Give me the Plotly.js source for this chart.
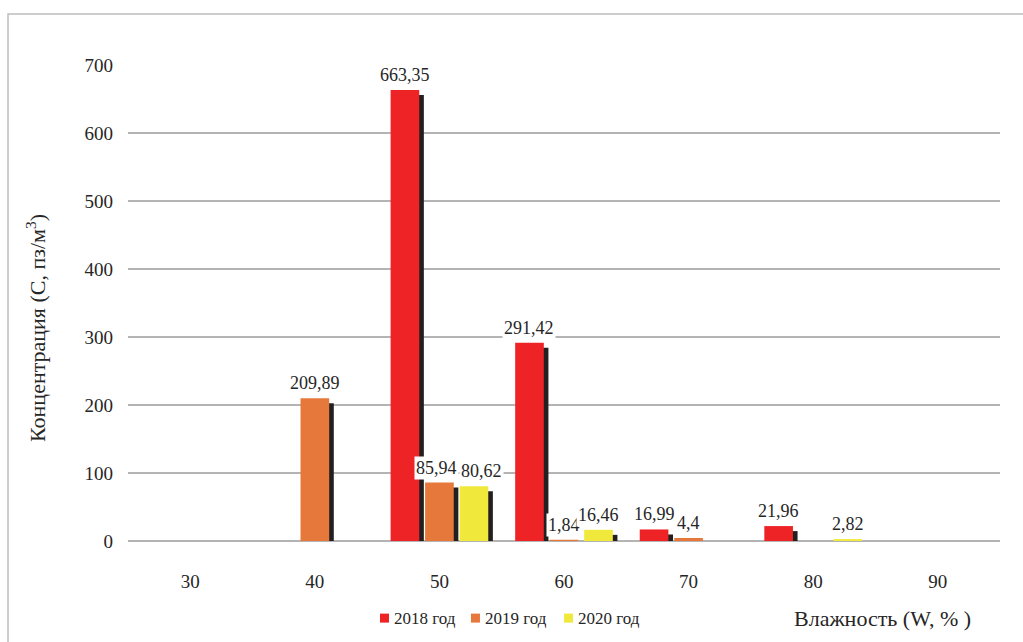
<!DOCTYPE html>
<html>
<head>
<meta charset="utf-8">
<script src="https://cdn.plot.ly/plotly-3.0.1.min.js"></script>
<style>html,body{margin:0;padding:0;background:#fff;}#chart{width:1023px;height:642px;}</style>
</head>
<body>
<div id="chart"></div>
<script>
// Humidity categories (W, %)
var humidity = [30, 40, 50, 60, 70, 80, 90];
var tickLabels = ['30', '40', '50', '60', '70', '80', '90'];
// Concentration values by year
var y2018 = [null, null, 663.35, 291.42, 16.99, 21.96, null];
var y2019 = [null, 209.89, 85.94, 1.84, 4.4, null, null];
var y2020 = [null, null, 80.62, 16.46, null, 2.82, null];
var seriesNames = ['2018 год', '2019 год', '2020 год'];
var seriesColors = ['#EE2326', '#E5783A', '#F0E93C'];

var series = [y2018, y2019, y2020];
var offsets = [-2.77, 0, 2.77];   // bar centre offsets within a group (x units)
var bw = 2.3;                     // bar width (x units)
var shX = 0.37, shY = 7.4;        // drop-shadow offset (x units, y units)
var fontFam = 'Liberation Serif';
var txtColor = '#262626';

var traces = [];
series.forEach(function (vals, i) {
  traces.push({
    type: 'bar', x: humidity, y: vals, base: -shY,
    width: bw, offset: offsets[i] - bw / 2 + shX,
    marker: {color: '#231F20', line: {width: 0}},
    showlegend: false, hoverinfo: 'skip'
  });
});
series.forEach(function (vals, i) {
  traces.push({
    type: 'bar', x: humidity, y: vals, name: seriesNames[i],
    width: bw, offset: offsets[i] - bw / 2,
    marker: {color: seriesColors[i], line: {width: 0}},
    showlegend: false
  });
});

// data labels; neighbouring labels at nearly the same height are pushed apart
var annotations = [];
series.forEach(function (vals, i) {
  vals.forEach(function (v, k) {
    if (v === null) return;
    var xs = 0;
    var left = i > 0 ? series[i - 1][k] : null;
    var right = i < 2 ? series[i + 1][k] : null;
    if (right !== null && Math.abs(right - v) < 12) xs = -3;
    if (left !== null && Math.abs(left - v) < 12) xs = 8;
    annotations.push({
      x: humidity[k] + offsets[i], y: v, xref: 'x', yref: 'y',
      text: String(v).replace('.', ','), showarrow: false,
      yanchor: 'middle', yshift: 15, xshift: xs, bgcolor: '#ffffff', borderpad: 1,
      font: {family: fontFam, size: 18, color: txtColor}
    });
  });
});
annotations.push({
  xref: 'paper', yref: 'paper', x: -0.1055, y: 0.4475, textangle: -90,
  text: 'Концентрация (С, пз/м<sup>3</sup>)', showarrow: false,
  xanchor: 'center', yanchor: 'middle',
  font: {family: fontFam, size: 22, color: txtColor}
});
annotations.push({
  xref: 'paper', yref: 'paper', x: 0.762, y: -0.162,
  text: 'Влажность (W, % )', showarrow: false,
  xanchor: 'left', yanchor: 'middle',
  font: {family: fontFam, size: 22, color: txtColor}
});

// custom legend (square + text)
var legendX = [0.289, 0.3933, 0.5];
var legendY = -0.162;
var shapes = [{
  type: 'rect', xref: 'paper', yref: 'paper',
  x0: -0.1376, x1: 1.2, y0: -0.5, y1: 1.1074,
  line: {color: '#BDBDBD', width: 1.5}, fillcolor: 'rgba(0,0,0,0)', layer: 'below'
}];
var sq = 9 / 872, sqy = 9 / 476;
seriesNames.forEach(function (n, i) {
  shapes.push({
    type: 'rect', xref: 'paper', yref: 'paper',
    x0: legendX[i], x1: legendX[i] + sq, y0: legendY - sqy / 2, y1: legendY + sqy / 2,
    line: {width: 0}, fillcolor: seriesColors[i]
  });
  annotations.push({
    xref: 'paper', yref: 'paper', x: legendX[i] + sq + 3 / 872, y: legendY,
    text: n, showarrow: false, xanchor: 'left', yanchor: 'middle',
    font: {family: fontFam, size: 17, color: txtColor}
  });
});

var layout = {
  width: 1023, height: 642,
  margin: {l: 128, r: 23, t: 65, b: 101},
  paper_bgcolor: '#ffffff', plot_bgcolor: '#ffffff',
  barmode: 'overlay',
  showlegend: false,
  font: {family: fontFam},
  xaxis: {
    range: [25, 95], tickvals: humidity, ticktext: tickLabels,
    showgrid: false, zeroline: false, showline: false, ticks: '',
    ticklabelstandoff: 27,
    tickfont: {family: fontFam, size: 19, color: txtColor}
  },
  yaxis: {
    range: [0, 700], dtick: 100, tick0: 0,
    showgrid: true, gridcolor: '#B4B4B4', gridwidth: 1.5,
    zeroline: true, zerolinecolor: '#B4B4B4', zerolinewidth: 2,
    showline: false, ticks: '', ticklabelstandoff: 14,
    tickfont: {family: fontFam, size: 19, color: txtColor}
  },
  annotations: annotations,
  shapes: shapes
};

Plotly.newPlot('chart', traces, layout, {displayModeBar: false, staticPlot: true});
</script>
</body>
</html>
